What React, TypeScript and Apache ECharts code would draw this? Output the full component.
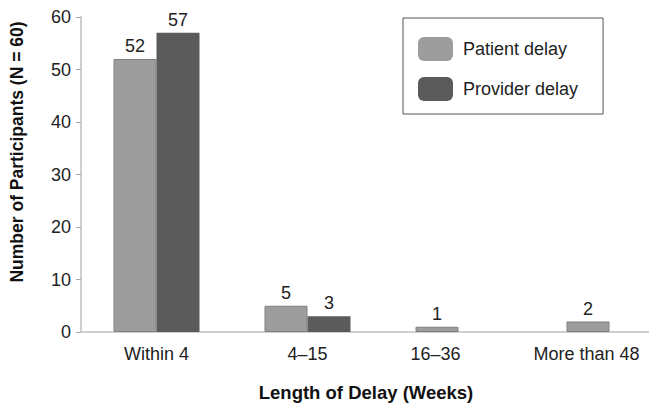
import React, { useEffect, useRef } from "react";
import * as echarts from "echarts";

const categories = ["Within 4", "4–15", "16–36", "More than 48"];
const patientDelay = [52, 5, 1, 2];
const providerDelay = [57, 3, 0, 0];
const yTicks = { min: 0, max: 60, interval: 10 };
const seriesNames = ["Patient delay", "Provider delay"];
const yTitle = "Number of Participants (N = 60)";
const xTitle = "Length of Delay (Weeks)";

const FONT = "'Liberation Sans Narrow', 'Liberation Sans', Arial, sans-serif";

export default function App() {
  const ref = useRef<HTMLDivElement>(null);
  useEffect(() => {
    if (!ref.current) return;
    const chart = echarts.init(ref.current, null, { renderer: "svg" });
    const labelFmt = (p: any) => (p.value === 0 ? "" : String(p.value));
    chart.setOption({
      animation: false,
      textStyle: { fontFamily: FONT },
      grid: { left: 81, top: 17, width: 604, height: 315, containLabel: false, outerBoundsMode: "none" },
      legend: {
        orient: "vertical",
        left: 403,
        top: 18,
        itemWidth: 35,
        itemHeight: 24,
        itemGap: 16,
        padding: [19, 25, 13, 15],
        borderColor: "#555",
        borderWidth: 1,
        borderRadius: 0,
        textStyle: { fontFamily: FONT, fontSize: 18, color: "#222", padding: [0, 0, 0, 5] },
        data: seriesNames.map((n) => ({ name: n, itemStyle: { borderWidth: 0 } })),
      },
      xAxis: {
        type: "category",
        data: categories,
        axisLine: { lineStyle: { color: "#cfcfcf", width: 2 } },
        axisTick: { show: false },
        axisLabel: {
          interval: 0,
          margin: 13,
          color: "#222",
          fontFamily: FONT,
          fontSize: 18,
          formatter: (v: string, i: number) => (i >= 2 ? `{s|${v}}` : `{n|${v}}`),
          rich: {
            n: { fontFamily: FONT, fontSize: 18, color: "#222" },
            s: { fontFamily: FONT, fontSize: 18, color: "#222", padding: [0, 46, 0, 0] },
          },
        },
      },
      yAxis: {
        type: "value",
        min: yTicks.min,
        max: yTicks.max,
        interval: yTicks.interval,
        axisLine: { show: true, lineStyle: { color: "#cfcfcf", width: 2 } },
        axisTick: { show: true, length: 5, lineStyle: { color: "#aaa" } },
        splitLine: { show: false },
        axisLabel: { color: "#222", fontFamily: FONT, fontSize: 18, margin: 10 },
      },
      graphic: [
        {
          type: "text",
          x: 17,
          y: 152,
          rotation: Math.PI / 2,
          style: {
            text: yTitle,
            fontFamily: FONT,
            fontSize: 17.5,
            fontWeight: "bold",
            fill: "#111",
            align: "center",
            verticalAlign: "middle",
          },
        },
        {
          type: "text",
          x: 366,
          y: 392,
          style: {
            text: xTitle,
            fontFamily: FONT,
            fontSize: 18.5,
            fontWeight: "bold",
            fill: "#111",
            align: "center",
            verticalAlign: "middle",
          },
        },
      ],
      series: [
        {
          name: seriesNames[0],
          type: "bar",
          data: patientDelay,
          barWidth: 43,
          barGap: "0%",
          itemStyle: { color: "#9d9d9d", borderColor: "#808080", borderWidth: 1 },
          label: { show: true, position: "top", distance: 4, fontSize: 18, color: "#222", fontFamily: FONT, formatter: labelFmt },
        },
        {
          name: seriesNames[1],
          type: "bar",
          data: providerDelay,
          barWidth: 43,
          barGap: "0%",
          itemStyle: { color: "#5b5b5b", borderWidth: 0 },
          label: { show: true, position: "top", distance: 4, fontSize: 18, color: "#222", fontFamily: FONT, formatter: labelFmt },
        },
      ],
    });
    return () => chart.dispose();
  }, []);
  return <div ref={ref} style={{ position: "absolute", left: 0, top: 0, width: 649, height: 405 }} />;
}
